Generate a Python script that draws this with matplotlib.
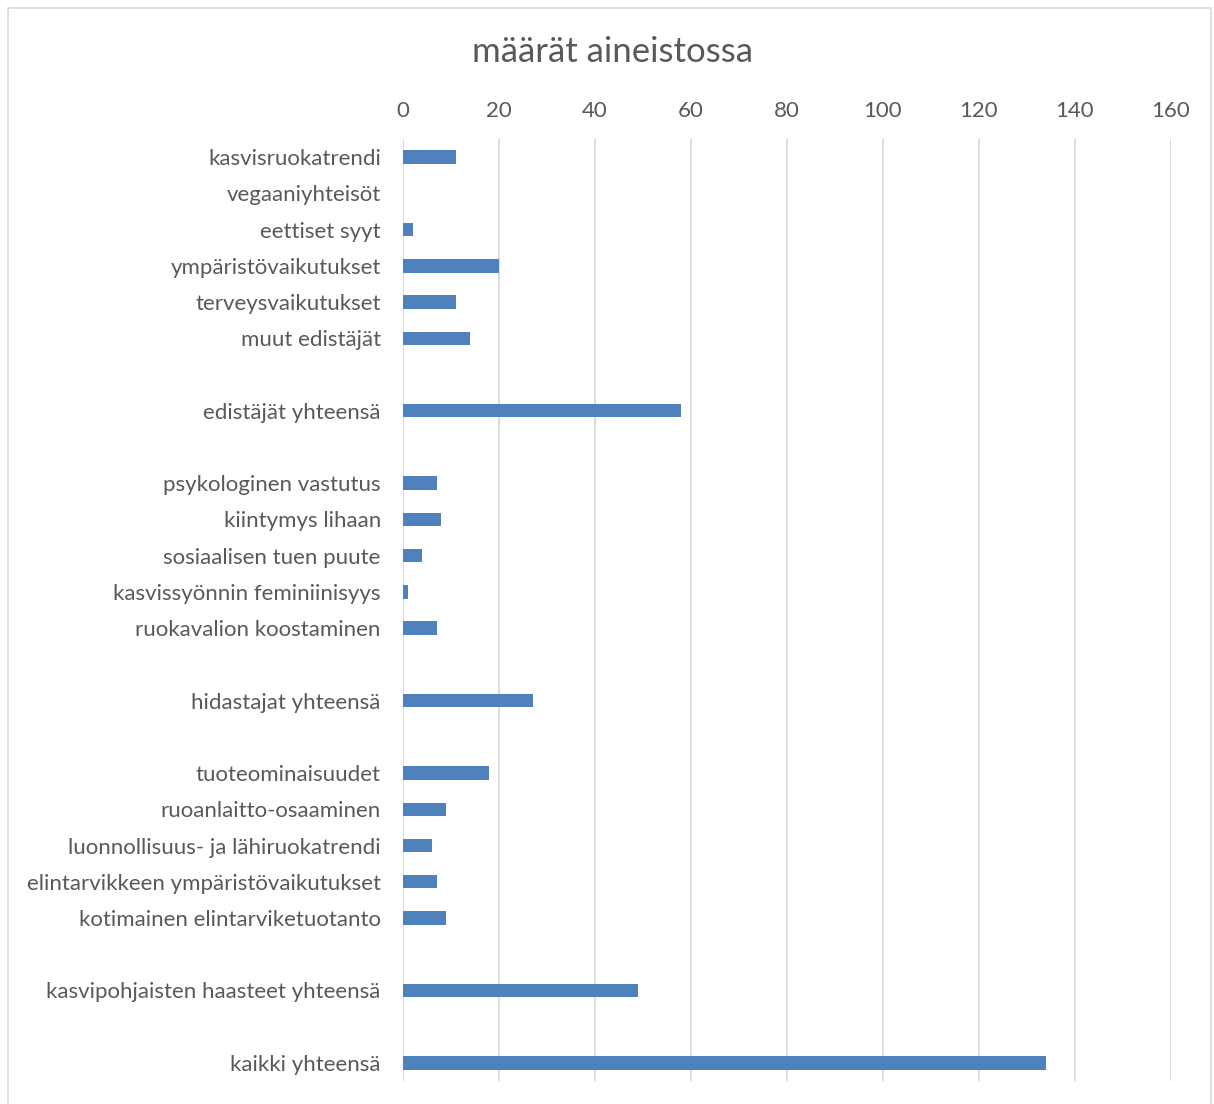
import matplotlib.pyplot as plt
from matplotlib.patches import Rectangle

# categories top to bottom, '' marks an empty row
labels = [
    'kasvisruokatrendi', 'vegaaniyhteisöt', 'eettiset syyt', 'ympäristövaikutukset',
    'terveysvaikutukset', 'muut edistäjät', '', 'edistäjät yhteensä', '',
    'psykologinen vastutus', 'kiintymys lihaan', 'sosiaalisen tuen puute',
    'kasvissyönnin feminiinisyys', 'ruokavalion koostaminen', '',
    'hidastajat yhteensä', '',
    'tuoteominaisuudet', 'ruoanlaitto-osaaminen', 'luonnollisuus- ja lähiruokatrendi',
    'elintarvikkeen ympäristövaikutukset', 'kotimainen elintarviketuotanto', '',
    'kasvipohjaisten haasteet yhteensä', '', 'kaikki yhteensä',
]
values = [11, 0, 2, 20, 11, 14, 0, 58, 0,
          7, 8, 4, 1, 7, 0, 27, 0,
          18, 9, 6, 7, 9, 0, 49, 0, 134]
xticks = [0, 20, 40, 60, 80, 100, 120, 140, 160]

plt.rcParams['font.family'] = ['Lato', 'DejaVu Sans']
txt = '#595959'

fig = plt.figure(figsize=(12.14, 11.04), dpi=100)
ax = fig.add_axes([403 / 1214, 1 - 1081 / 1104, 768 / 1214, 942 / 1104])

pos = list(range(len(labels)))
ax.barh(pos, values, height=0.37, color='#4f81bd', linewidth=0, zorder=3)
ax.set_ylim(len(labels) - 0.5, -0.5)
ax.set_xlim(0, 160)
ax.set_yticks(pos)
ax.set_yticklabels(labels, fontsize=16, color=txt)
ax.set_xticks(xticks)
ax.xaxis.tick_top()
ax.tick_params(axis='x', labelsize=16, colors=txt, length=0, pad=13)
ax.tick_params(axis='y', length=0, pad=16)
ax.grid(axis='x', color='#d9d9d9', linewidth=1.3, zorder=0)
for s in ax.spines.values():
    s.set_visible(False)

fig.text(613 / 1214, 1 - 52 / 1104, 'määrät aineistossa', fontsize=25, color=txt,
         ha='center', va='center')

# chart border
fig.patches.append(Rectangle((8 / 1214, -0.01), 1203 / 1214, 1 - 8 / 1104 + 0.01,
                             transform=fig.transFigure, fill=False,
                             edgecolor='#d9d9d9', linewidth=1.2))

fig.savefig('out.png', dpi=100)
